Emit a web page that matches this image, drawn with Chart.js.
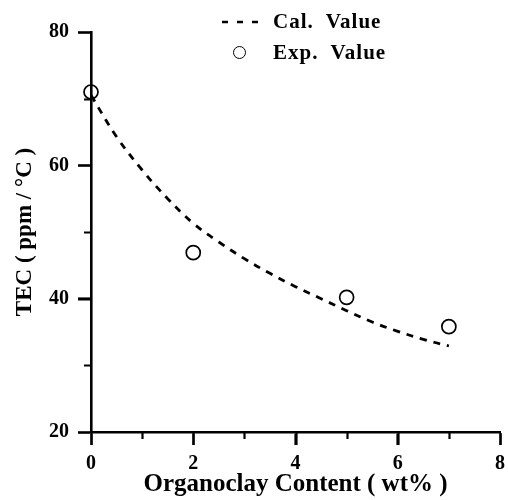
<!DOCTYPE html>
<html>
<head>
<meta charset="utf-8">
<script src="https://cdn.jsdelivr.net/npm/chart.js@4"></script>
<style>
  html, body { margin: 0; padding: 0; background: #fff; overflow: hidden; }
  #wrap { width: 508px; height: 500px; position: relative; overflow: hidden; }
  #grafico { position: absolute; left: 0; top: 0; }
  .leg { position: absolute; left: 273px; font: bold 21px 'Liberation Serif', 'Times New Roman', serif;
         letter-spacing: 1px; line-height: 24px; white-space: pre; color: #000; }
  #legCal { top: 9px; }
  #legExp { top: 40px; }
  #amostraLinha { position: absolute; left: 220px; top: 20px; }
  #amostraPonto { position: absolute; left: 233px; top: 46px; width: 11px; height: 11px;
                  border: 1.6px solid #000; border-radius: 50%; }
</style>
</head>
<body>
<div id="wrap">
  <canvas id="grafico" width="512" height="500" style="width:512px;height:500px"></canvas>
  <svg id="amostraLinha" width="42" height="4"><line x1="2" y1="2" x2="40" y2="2" stroke="#000" stroke-width="2.5" stroke-dasharray="6 9"/></svg>
  <div id="amostraPonto"></div>
  <div class="leg" id="legCal"></div>
  <div class="leg" id="legExp"></div>
</div>
<script>
// valores
const series = ["Cal.  Value", "Exp.  Value"];

const expX = [0, 2, 5, 7];
const expY = [71, 46.9, 40.2, 35.8];

const calX = [0, 0.5, 1, 1.5, 2, 2.5, 3, 3.5, 4, 4.5, 5, 5.5, 6, 6.5, 7];
const calY = [70.5, 64.3, 59.3, 55.0, 51.3, 48.5, 46.0, 43.8, 41.8, 40.0, 38.2, 36.5, 35.1, 33.9, 32.9];

const xTicks = [0, 2, 4, 6, 8];
const yTicks = [20, 40, 60, 80];
const xMinor = [1, 3, 5, 7];
const yMinor = [30, 50, 70];

const serif = "'Liberation Serif', 'Times New Roman', serif";
Chart.defaults.font.family = serif;
Chart.defaults.font.weight = "bold";
Chart.defaults.color = "#000";

// legenda em HTML, empilhada como no original
document.getElementById("legCal").textContent = series[0];
document.getElementById("legExp").textContent = series[1];

// marcas dos eixos (maiores e menores, para fora), a partir das escalas
const marcasEixos = {
    id: "marcasEixos",
    afterDraw(chart) {
        const ctx = chart.ctx;
        const area = chart.chartArea;
        const sx = chart.scales.x;
        const sy = chart.scales.y;
        const linhaX = (v, len) => {
            const px = Math.round(sx.getPixelForValue(v)) + 0.5;
            ctx.moveTo(px, area.bottom + 1);
            ctx.lineTo(px, area.bottom + len);
        };
        const linhaY = (v, len) => {
            const py = Math.round(sy.getPixelForValue(v)) + 0.5;
            ctx.moveTo(area.left - 1, py);
            ctx.lineTo(area.left - len, py);
        };
        ctx.save();
        ctx.strokeStyle = "#000";
        ctx.lineWidth = 2.2;
        ctx.setLineDash([]);
        ctx.beginPath();
        xTicks.forEach((v) => linhaX(v, 13));
        xMinor.forEach((v) => linhaX(v, 7));
        yTicks.forEach((v) => linhaY(v, 13));
        yMinor.forEach((v) => linhaY(v, 7));
        ctx.stroke();
        ctx.restore();
    }
};

const graf = document.getElementById("grafico");

new Chart(graf, {
    type: "scatter",
    data: {
        datasets: [
            {
                label: series[0],
                data: calX.map((x, i) => ({ x: x, y: calY[i] })),
                showLine: true,
                borderColor: "#000",
                borderWidth: 2.8,
                borderDash: [7, 7],
                pointRadius: 0,
                tension: 0.4,
                fill: false,
            },
            {
                label: series[1],
                data: expX.map((x, i) => ({ x: x, y: expY[i] })),
                showLine: false,
                pointStyle: "circle",
                pointRadius: 7,
                borderWidth: 1.7,
                borderColor: "#000",
                backgroundColor: "rgba(0,0,0,0)",
                clip: false,
            },
        ],
    },
    options: {
        responsive: false,
        animation: false,
        devicePixelRatio: 1,
        layout: { padding: { top: 32, right: 1, left: 0, bottom: 0 } },
        plugins: {
            legend: { display: false },
            tooltip: { enabled: false },
        },
        scales: {
            x: {
                type: "linear",
                min: 0,
                max: 8,
                afterFit: (s) => { s.height = 68; },
                border: { display: true, color: "#000", width: 2.6 },
                grid: {
                    drawOnChartArea: false,
                    drawTicks: true,
                    tickLength: 13,
                    tickWidth: 2.2,
                    tickColor: "#000",
                },
                ticks: {
                    stepSize: 2,
                    padding: 7,
                    font: { size: 20, weight: "bold" },
                    maxRotation: 0,
                    autoSkip: false,
                    callback: (v) => (xTicks.includes(v) ? v : ""),
                },
                title: {
                    display: true,
                    text: "Organoclay Content ( wt% )",
                    font: { size: 25, weight: "bold" },
                    padding: { top: 0, bottom: 0 },
                },
            },
            y: {
                min: 20,
                max: 80,
                afterFit: (s) => { s.width = 91; },
                border: { display: true, color: "#000", width: 2.6 },
                grid: {
                    drawOnChartArea: false,
                    drawTicks: true,
                    tickLength: 13,
                    tickWidth: 2.2,
                    tickColor: "#000",
                },
                ticks: {
                    stepSize: 20,
                    padding: 9,
                    font: { size: 20, weight: "bold" },
                    autoSkip: false,
                    callback: (v) => (yTicks.includes(v) ? v : ""),
                },
                title: {
                    display: true,
                    text: "TEC ( ppm / °C )",
                    font: { size: 23, weight: "bold" },
                    padding: { top: 11, bottom: 0 },
                },
            },
        },
    },
    plugins: [marcasEixos],
});
</script>
</body>
</html>
